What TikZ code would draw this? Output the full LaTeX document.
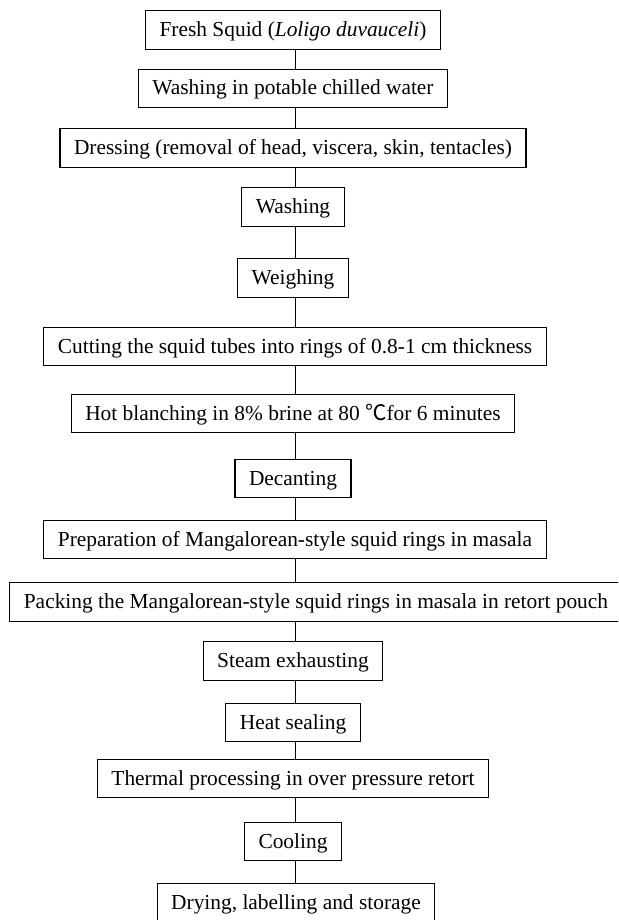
\documentclass[tikz,border=0pt]{standalone}
\usepackage{fontspec}
\setmainfont{Liberation Serif}
\newfontfamily\cjkfont{Noto Sans CJK SC}
\begin{document}
\begin{tikzpicture}[x=1pt,y=-1pt, line width=1.1pt,
  every node/.style={font=\fontsize{21.4}{25}\selectfont},
  stepbox/.style={draw, inner xsep=14pt, inner ysep=0pt, text height=17pt, text depth=4pt, minimum height=38.6pt}]
\useasboundingbox (0,0) rectangle (618,920);
\clip (0,0) rectangle (618,920);
\node[stepbox] (fresh) at (293,30) {Fresh Squid (\textit{Loligo duvauceli})};
\node[stepbox] (chill) at (293,88.5) {Washing in potable chilled water};
\node[stepbox] (dress) at (293,148) {Dressing (removal of head, viscera, skin, tentacles)};
\node[stepbox] (wash) at (293,207) {Washing};
\node[stepbox] (weigh) at (293,278) {Weighing};
\node[stepbox] (cut) at (295,346.5) {Cutting the squid tubes into rings of 0.8-1 cm thickness};
\node[stepbox] (blanch) at (293,413.5) {Hot blanching in 8\% brine at 80 {\cjkfont ℃}for 6 minutes};
\node[stepbox] (decant) at (293,478.5) {Decanting};
\node[stepbox] (prep) at (295,539.5) {Preparation of Mangalorean-style squid rings in masala};
\node[stepbox, anchor=west] (pack) at (9.3,602) {Packing the Mangalorean-style squid rings in masala in retort pouch};
\node[stepbox] (steam) at (293,661) {Steam exhausting};
\node[stepbox] (seal) at (293,722.5) {Heat sealing};
\node[stepbox] (retort) at (293,778.5) {Thermal processing in over pressure retort};
\node[stepbox] (cool) at (293,841.5) {Cooling};
\node[stepbox] (store) at (296,902.5) {Drying, labelling and storage};
% connectors
\coordinate (spine) at (295.5,0);
\foreach \a/\b in {fresh/chill,chill/dress,dress/wash,wash/weigh,weigh/cut,cut/blanch,
  blanch/decant,decant/prep,prep/pack,pack/steam,steam/seal,seal/retort,retort/cool,cool/store}
  \draw (spine |- \a.south) -- (spine |- \b.north);
\end{tikzpicture}
\end{document}
